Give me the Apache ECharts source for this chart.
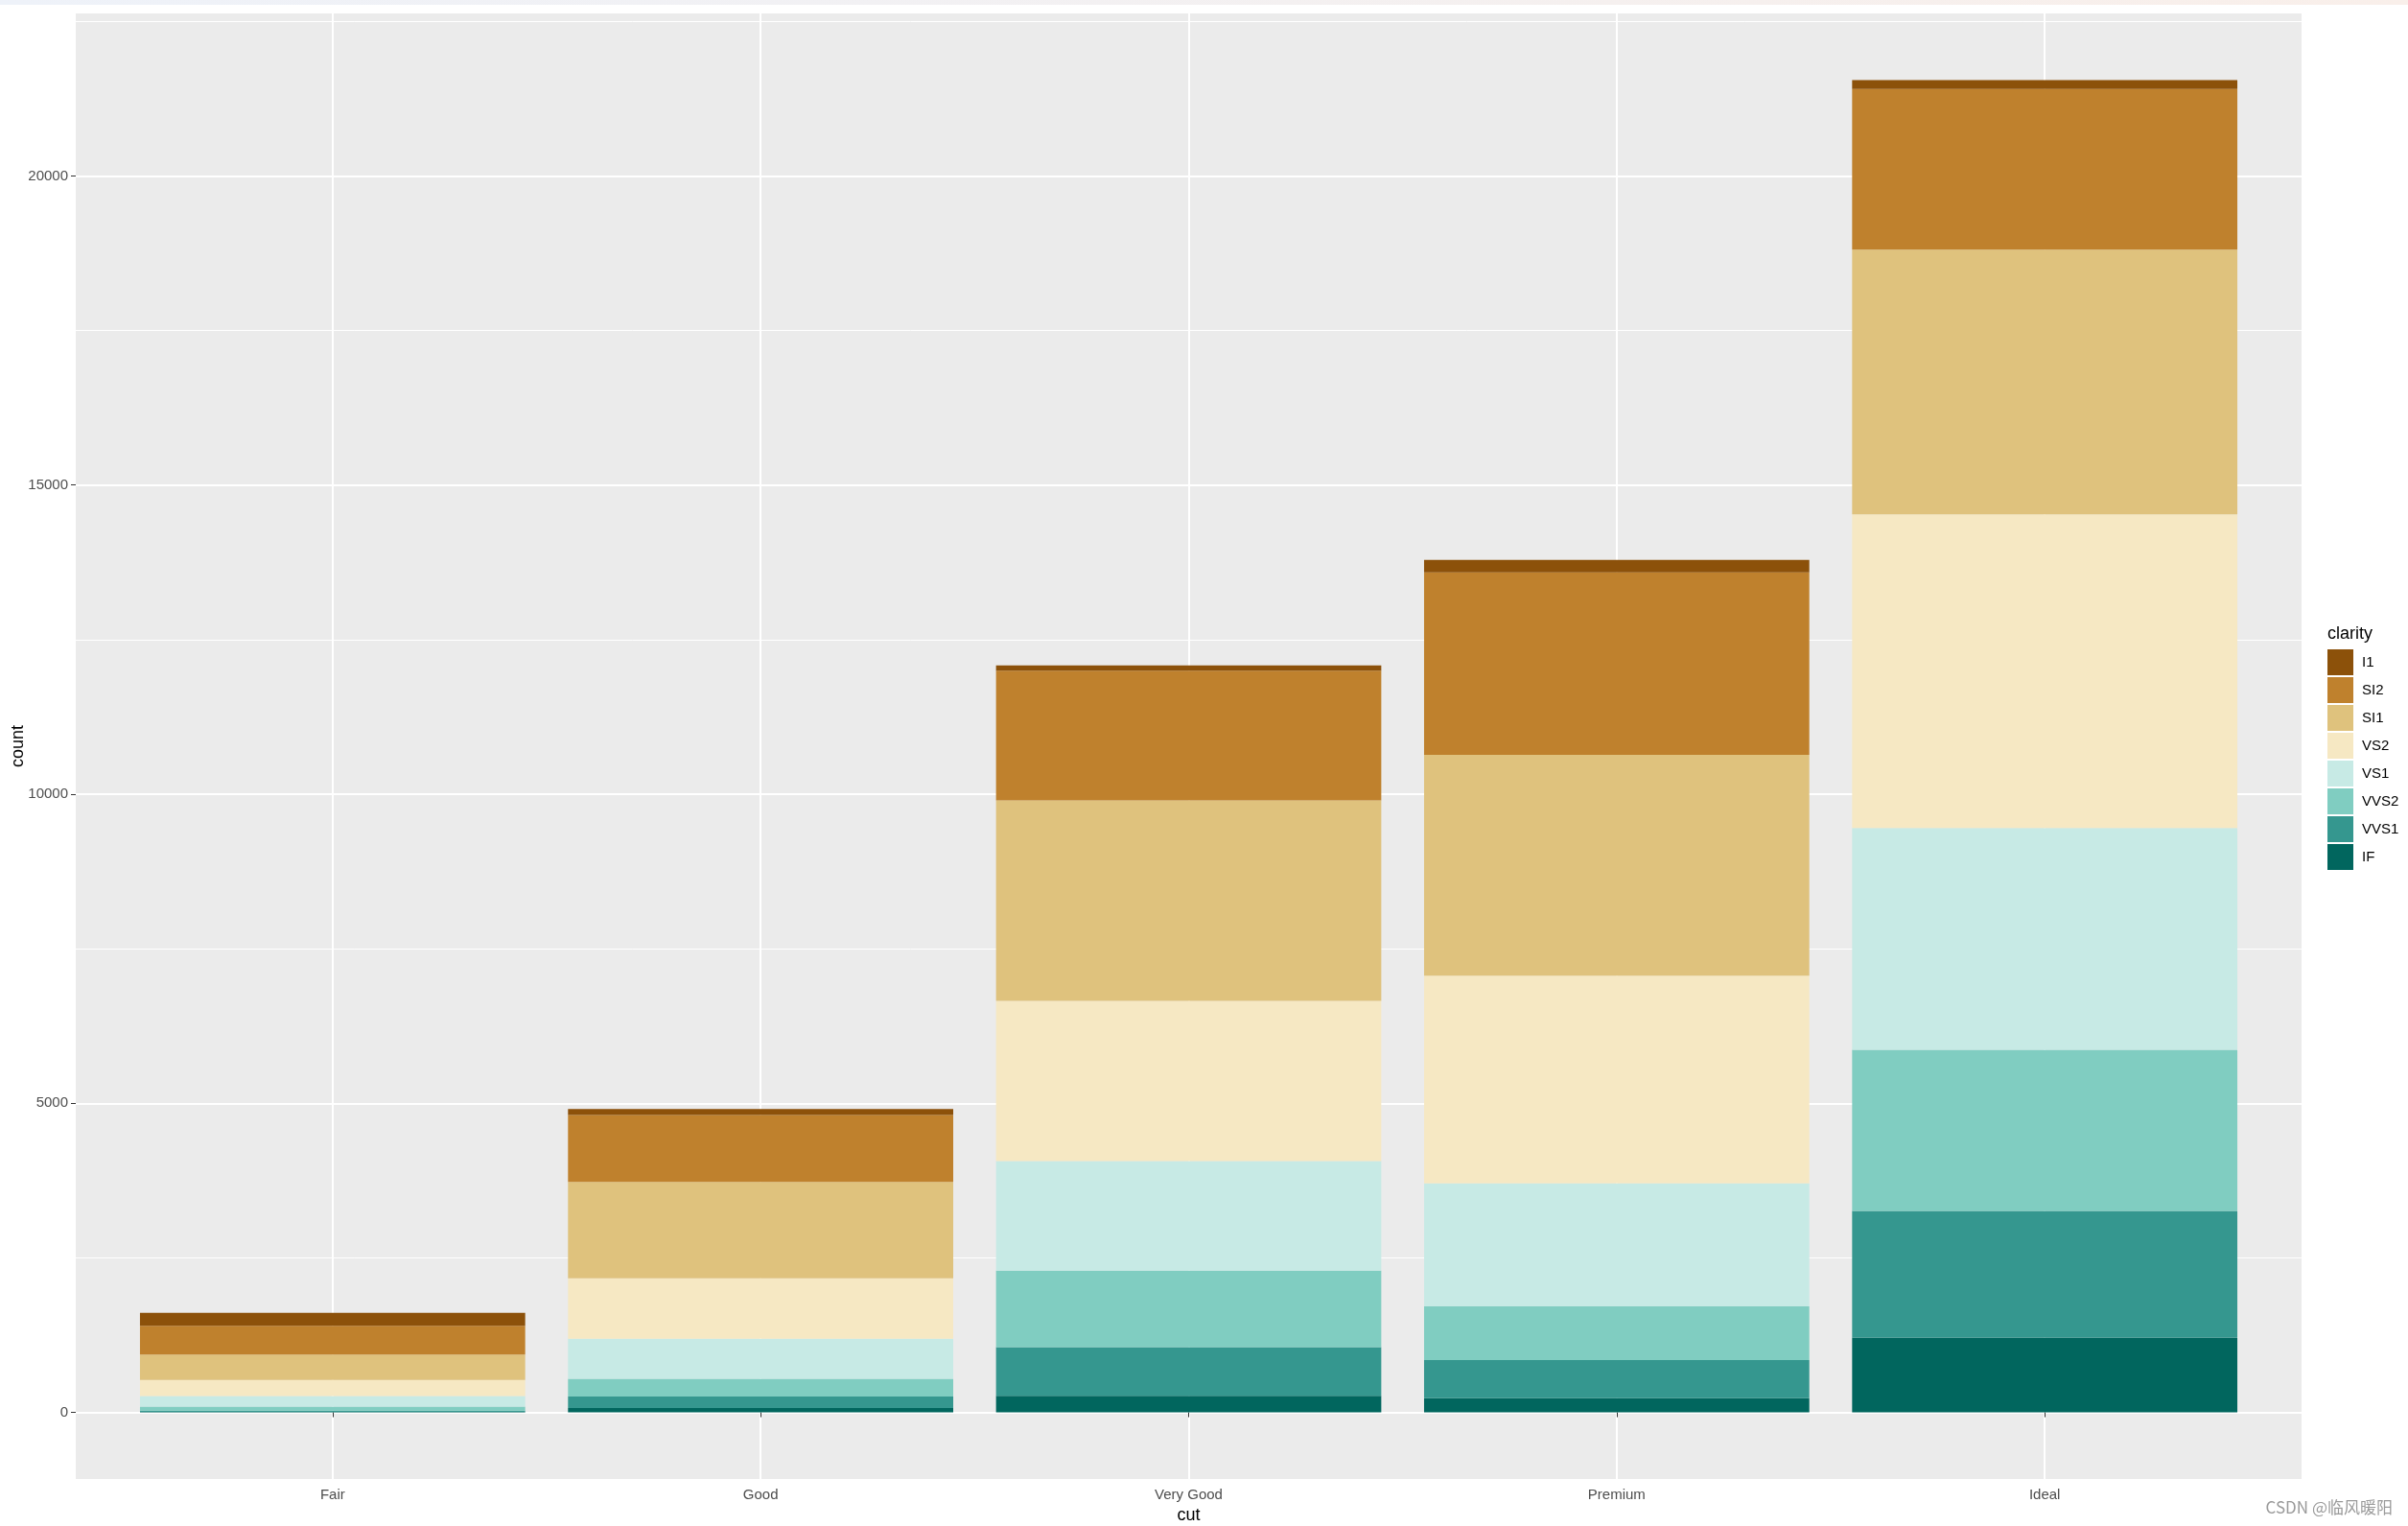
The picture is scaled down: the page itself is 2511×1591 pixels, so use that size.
<!DOCTYPE html>
<html><head><meta charset="utf-8">
<script src="https://cdn.jsdelivr.net/npm/echarts@6/dist/echarts.min.js"></script>
<style>html,body{margin:0;padding:0;background:#fff}#c{width:2511px;height:1591px}</style>
</head><body><div id="c"></div>
<script>
const cuts = ['Fair', 'Good', 'Very Good', 'Premium', 'Ideal'];
const clarities = ['I1', 'SI2', 'SI1', 'VS2', 'VS1', 'VVS2', 'VVS1', 'IF'];
const colors = {I1:'#8C510A', SI2:'#BF812D', SI1:'#DFC27D', VS2:'#F6E8C3', VS1:'#C7EAE5', VVS2:'#80CDC1', VVS1:'#35978F', IF:'#01665E'};
const I1   = [210, 96, 84, 205, 146];
const SI2  = [466, 1081, 2100, 2949, 2598];
const SI1  = [408, 1560, 3240, 3575, 4282];
const VS2  = [261, 978, 2591, 3357, 5071];
const VS1  = [170, 648, 1775, 1989, 3589];
const VVS2 = [69, 286, 1235, 870, 2606];
const VVS1 = [17, 186, 789, 616, 2047];
const IF   = [9, 71, 268, 230, 1212];
const yTicks = [0, 5000, 10000, 15000, 20000];
const xTicks = [1, 2, 3, 4, 5];

const valuesBy = {I1, SI2, SI1, VS2, VS1, VVS2, VVS1, IF};
const totals = cuts.map((_, i) => clarities.reduce((s, c) => s + valuesBy[c][i], 0));
const ymax = Math.max(...totals);
const pad = ymax * 0.05;
const yMin = -pad, yMax = ymax + pad;

const panel = {left: 79, top: 14, width: 2321, height: 1528};
const unit = panel.width / (cuts.length + 0.2);
const font = 'Liberation Sans, Arial, sans-serif';

const stackOrder = clarities.slice().reverse();
const series = stackOrder.map(c => ({
  name: c, type: 'bar', stack: 'total', xAxisIndex: 1, yAxisIndex: 1,
  barWidth: '90%', itemStyle: {color: colors[c]}, data: valuesBy[c], z: 3,
  emphasis: {disabled: true}
}));

const chart = echarts.init(document.getElementById('c'));
chart.setOption({
  animation: false,
  backgroundColor: '#ffffff',
  grid: [
    {left: panel.left, top: panel.top, width: panel.width, height: panel.height, show: true, backgroundColor: '#EBEBEB', borderWidth: 0, containLabel: false, outerBoundsMode: 'none'},
    {left: panel.left + unit * 0.1, top: panel.top, width: unit * cuts.length, height: panel.height, containLabel: false, outerBoundsMode: 'none'}
  ],
  xAxis: [
    {gridIndex: 0, type: 'value', min: 0.4, max: cuts.length + 0.6,
     axisLine: {show: false},
     axisTick: {show: true, length: 5, lineStyle: {color: '#333333', width: 1}, customValues: xTicks},
     axisLabel: {customValues: xTicks, formatter: v => cuts[Math.round(v) - 1] || '', color: '#4D4D4D', fontSize: 15, fontFamily: font, margin: 9},
     splitLine: {show: true, lineStyle: {color: '#FFFFFF', width: 2}},
     name: 'cut', nameLocation: 'middle', nameGap: 29,
     nameTextStyle: {color: '#000000', fontSize: 18, fontFamily: font}},
    {gridIndex: 1, type: 'category', data: cuts, show: false}
  ],
  yAxis: [
    {gridIndex: 0, type: 'value', min: yMin, max: yMax,
     axisLine: {show: false},
     axisTick: {show: true, length: 5, lineStyle: {color: '#333333', width: 1}, customValues: yTicks},
     axisLabel: {customValues: yTicks, formatter: v => String(Math.round(v)), color: '#4D4D4D', fontSize: 15, fontFamily: font, margin: 8},
     splitLine: {show: true, lineStyle: {color: '#FFFFFF', width: 2}},
     minorTick: {show: false, splitNumber: 2},
     minorSplitLine: {show: true, lineStyle: {color: '#FFFFFF', width: 1}}},
    {gridIndex: 1, type: 'value', min: yMin, max: yMax, show: false}
  ],
  legend: {
    data: clarities, orient: 'vertical', left: 2427, top: 677, padding: 0,
    itemWidth: 27, itemHeight: 27, itemGap: 2, icon: 'rect',
    selectedMode: false,
    textStyle: {color: '#000000', fontSize: 15, fontFamily: font, padding: [0, 0, 0, 4]}
  },
  graphic: [
    {type: 'rect', left: 0, top: 0, shape: {width: 2511, height: 5}, z: 100,
     style: {fill: new echarts.graphic.LinearGradient(0, 0, 1, 0, [{offset: 0, color: '#EEF2F9'}, {offset: 1, color: '#F9EFEA'}])}},
    {type: 'text', x: 19, y: panel.top + panel.height / 2, rotation: Math.PI / 2, z: 100,
     style: {text: 'count', fill: '#000000', font: '18px ' + font, align: 'center', verticalAlign: 'middle'}},
    {type: 'text', left: 2427, top: 652, z: 100,
     style: {text: 'clarity', fill: '#000000', font: '18px ' + font}},
    {type: 'text', right: 16, top: 1563, z: 100,
     style: {text: 'CSDN @临风暖阳', fill: '#9A9A9A', font: '17px "Noto Sans CJK SC", sans-serif'}}
  ],
  series: series
});
</script></body></html>
